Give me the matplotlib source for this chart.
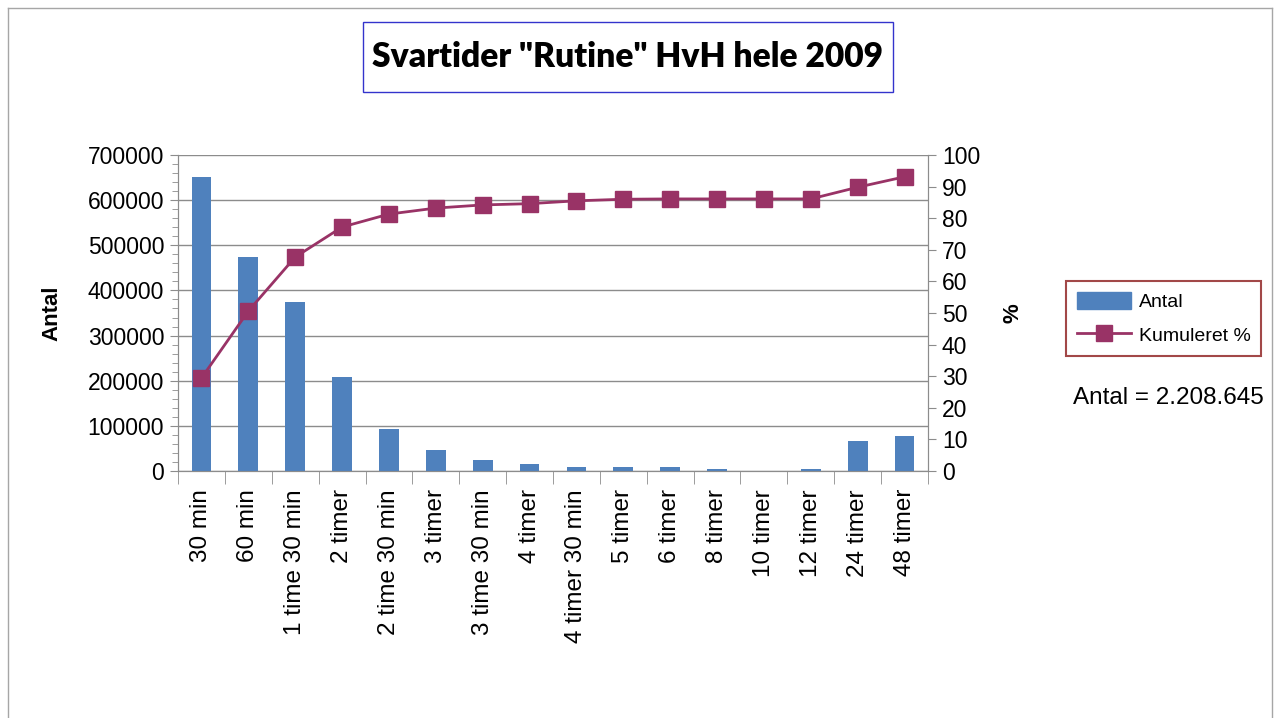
import matplotlib
matplotlib.use("Agg")
import matplotlib.pyplot as plt
from matplotlib.lines import Line2D
from matplotlib.patches import Rectangle, Patch
from matplotlib.ticker import MultipleLocator, FixedLocator

# ---------- Data ----------
categories = ["30 min", "60 min", "1 time 30 min", "2 timer", "2 time 30 min",
              "3 timer", "3 time 30 min", "4 timer", "4 timer 30 min", "5 timer",
              "6 timer", "8 timer", "10 timer", "12 timer", "24 timer", "48 timer"]
antal = [652000, 474000, 374000, 208000, 93000, 46500, 24000, 15500,
         9000, 9000, 9000, 4500, 1000, 4500, 66500, 77500]
kumuleret = [29.4, 50.6, 67.7, 77.2, 81.3, 83.2, 84.2, 84.6, 85.5, 86.0,
             86.1, 86.1, 86.1, 86.1, 89.8, 93.1]

title = 'Svartider "Rutine" HvH hele 2009'
note = "Antal = 2.208.645"

bar_color = "#4F81BD"
line_color = "#993366"
grid_color = "#8C8C8C"

plt.rcParams["font.family"] = ["Liberation Sans", "DejaVu Sans"]

W, H = 1279, 718
fig = plt.figure(figsize=(W / 100, H / 100), dpi=100)
fig.patch.set_facecolor("white")

# ---------- Outer frame ----------
frame_kw = dict(color="#A6A6A6", linewidth=1.0, transform=fig.transFigure)
fig.add_artist(Line2D([8 / W, 8 / W], [0, 1 - 8 / H], **frame_kw))
fig.add_artist(Line2D([8 / W, 1272 / W], [1 - 8 / H, 1 - 8 / H], **frame_kw))
fig.add_artist(Line2D([1272 / W, 1272 / W], [0, 1 - 8 / H], **frame_kw))

# ---------- Title box ----------
fig.add_artist(Rectangle((363 / W, 1 - 92 / H), 530 / W, 70 / H,
                         transform=fig.transFigure, fill=False,
                         edgecolor="#3333CC", linewidth=1.0))
fig.text(628 / W, 1 - 57 / H, title, ha="center", va="center",
         fontsize=24.2, fontweight="heavy", family=["Lato", "DejaVu Sans"])

# ---------- Axes ----------
left, right, top, bottom = 178, 928, 155, 471
ax = fig.add_axes([left / W, 1 - bottom / H, (right - left) / W, (bottom - top) / H])
ax2 = ax.twinx()

x = list(range(len(categories)))
ax.bar(x, antal, width=0.42, color=bar_color, zorder=3, label="Antal")
ax.set_xlim(-0.5, len(categories) - 0.5)
ax.set_ylim(0, 700000)
ax.yaxis.set_major_locator(MultipleLocator(100000))
ax.yaxis.set_minor_locator(MultipleLocator(20000))
ax.yaxis.grid(True, color=grid_color, linewidth=1.0, zorder=0)
ax.set_axisbelow(True)

ax.set_xticks(x)
ax.set_xticklabels(categories, rotation=90, fontsize=17.5)
ax.xaxis.set_minor_locator(FixedLocator([i + 0.5 for i in range(-1, len(categories))]))
ax.tick_params(axis="x", which="major", length=0, pad=13)
ax.tick_params(axis="x", which="minor", length=9, color=grid_color)
ax.tick_params(axis="y", which="major", labelsize=16.5, length=6, color=grid_color, pad=4)
ax.tick_params(axis="y", which="minor", length=4, color=grid_color)
ax.set_ylabel("Antal", fontsize=16, fontweight="bold", labelpad=18)

for sp in ["left", "bottom", "right"]:
    ax.spines[sp].set_color(grid_color)
ax.spines["top"].set_visible(False)

ax2.plot(x, kumuleret, color=line_color, linewidth=2, marker="s",
         markersize=12, markerfacecolor=line_color, markeredgecolor=line_color,
         zorder=4, label="Kumuleret %")
ax2.set_ylim(0, 100)
ax2.yaxis.set_major_locator(MultipleLocator(10))
ax2.tick_params(axis="y", labelsize=16.5, length=6, color=grid_color, pad=4)
ax2.set_ylabel("%", fontsize=16, fontweight="bold", labelpad=16)
for sp in ["left", "bottom", "right"]:
    ax2.spines[sp].set_color(grid_color)
ax2.spines["top"].set_visible(False)

# ---------- Legend ----------
handles = [Patch(facecolor=bar_color, edgecolor=bar_color, label="Antal"),
           Line2D([0], [0], color=line_color, linewidth=2, marker="s",
                  markersize=12, label="Kumuleret %")]
leg = fig.legend(handles=handles, loc="upper left",
                 bbox_to_anchor=(1066 / W, 1 - 281 / H), fontsize=14,
                 frameon=True, fancybox=False, handlelength=2.8, handleheight=1.0,
                 borderpad=0.55, labelspacing=0.75, handletextpad=0.4,
                 borderaxespad=0)
leg.get_frame().set_edgecolor("#8B1A1A")
leg.get_frame().set_linewidth(1.5)

fig.text(1168 / W, 1 - 398 / H, note, ha="center", va="center", fontsize=17.5)

fig.savefig("out.png", dpi=100)
